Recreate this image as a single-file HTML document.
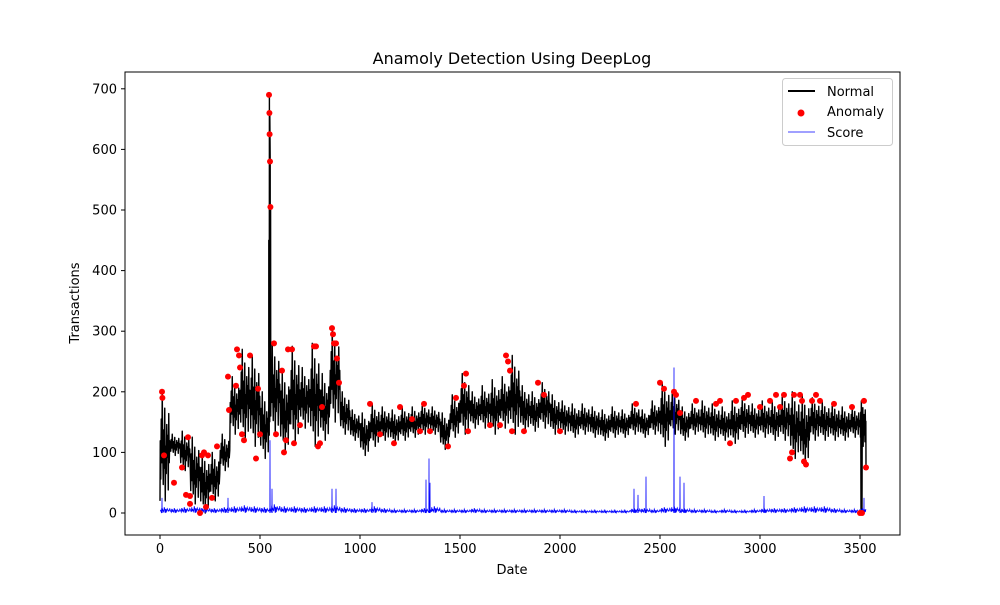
<!DOCTYPE html>
<html><head><meta charset="utf-8"><style>
body{margin:0;background:#fff;font-family:"Liberation Sans","DejaVu Sans",sans-serif}
svg text{font-family:"DejaVu Sans","Liberation Sans",sans-serif;font-size:13px}
</style></head><body>
<svg id="chart" width="1000" height="600">
<rect x="0" y="0" width="1000" height="600" fill="#fff"/>
<g id="plot"></g>
<rect x="125" y="72" width="775" height="463" fill="none" stroke="#000" stroke-width="1"/>
<g id="axes"></g>
<text x="512" y="64" text-anchor="middle" style="font-size:16px">Anamoly Detection Using DeepLog</text>
<text x="512" y="574" text-anchor="middle">Date</text>
<text x="79" y="303" text-anchor="middle" transform="rotate(-90 79 303)">Transactions</text>
<g>
<rect x="782.5" y="78.5" width="110" height="67" rx="3" fill="#fff" stroke="#ccc"/>
<line x1="788" y1="91" x2="815" y2="91" stroke="#000" stroke-width="2"/>
<text x="827" y="96">Normal</text>
<circle cx="801" cy="113" r="3.5" fill="red"/>
<text x="827" y="116">Anomaly</text>
<line x1="788" y1="132" x2="815" y2="132" stroke="blue" stroke-width="0.8"/>
<text x="827" y="137">Score</text>
</g>
</svg>
<script>
const binStart=[0,50,100,150,200,250,300,350,400,450,500,550,600,650,700,750,800,850,900,950,1000,1050,1100,1150,1200,1250,1300,1350,1400,1450,1500,1550,1600,1650,1700,1750,1800,1850,1900,1950,2000,2050,2100,2150,2200,2250,2300,2350,2400,2450,2500,2550,2600,2650,2700,2750,2800,2850,2900,2950,3000,3050,3100,3150,3200,3250,3300,3350,3400,3450,3500];
const normalLo=[20,95,70,15,0,20,70,130,120,110,90,130,100,115,140,110,120,150,130,120,95,110,120,115,120,125,130,130,105,125,130,140,140,130,140,130,135,135,140,130,130,125,130,125,120,125,125,130,125,130,110,130,120,130,125,120,120,115,125,125,125,120,120,90,80,120,120,120,120,125,110];
const normalHi=[200,130,135,125,100,100,130,225,270,260,200,280,235,275,240,280,230,305,200,170,165,180,175,170,175,175,180,175,165,195,230,200,210,220,225,260,210,200,215,195,185,180,180,175,170,175,170,180,170,185,215,200,175,180,185,180,175,185,190,180,185,185,195,200,195,190,185,180,175,175,185];
const normalSpikeX=[544,547,549,551,553,3505,3510];
const normalSpikeY=[450,690,660,580,505,0,0];
const scoreHi=[12,10,12,14,12,10,12,14,16,14,12,18,14,14,12,14,14,16,12,10,10,14,10,8,8,8,10,14,8,8,8,10,8,8,8,8,8,8,8,8,8,6,6,6,6,6,6,10,10,8,12,14,10,8,8,6,8,6,6,8,10,10,10,12,14,14,14,10,8,8,10];
const spikeX=[10,340,550,560,860,880,1060,1330,1345,1350,2370,2390,2430,2570,2600,2620,3020,3520];
const spikeY=[25,25,120,40,40,40,18,55,90,50,40,30,60,240,60,50,28,25];
const anomX=[10,12,20,70,110,130,140,150,150,200,210,220,230,240,260,285,340,345,380,385,395,400,410,420,450,480,490,500,545,547,548,550,552,570,580,610,620,630,640,660,670,700,770,780,790,800,810,860,865,870,880,885,895,1050,1100,1170,1200,1260,1300,1320,1350,1440,1480,1520,1530,1540,1650,1700,1730,1740,1750,1760,1820,1890,1920,2000,2380,2500,2520,2570,2580,2600,2680,2780,2800,2850,2880,2920,2940,3000,3050,3080,3100,3120,3150,3160,3170,3200,3210,3220,3230,3260,3280,3300,3370,3460,3500,3510,3520,3530];
const anomY=[200,190,95,50,75,30,125,15,28,0,95,100,10,95,25,110,225,170,210,270,260,240,130,120,260,90,205,130,690,660,625,580,505,280,130,235,100,120,270,270,115,145,275,275,110,115,175,305,295,280,280,255,215,180,130,115,175,155,135,180,135,110,190,210,230,135,145,145,260,250,235,135,135,215,195,135,180,215,205,200,195,165,185,180,185,115,185,190,195,175,185,195,175,195,90,100,195,195,185,85,80,185,195,185,180,175,0,0,185,75];
const xTicks=[0,500,1000,1500,2000,2500,3000,3500];
const yTicks=[0,100,200,300,400,500,600,700];
const X=v=>160+v*0.2, Y=v=>513-v*0.606;
const NS="http://www.w3.org/2000/svg";
const plot=document.getElementById('plot'), axes=document.getElementById('axes');
function mk(t,a,p){const e=document.createElementNS(NS,t);for(const k in a)e.setAttribute(k,a[k]);p.appendChild(e);return e;}
const pat=[0.55,0.2,0.75,0.35,1,0.45,0.15,0.65,0.3,0.85,0,0.5,0.25,0.7,0.4,0.6,0.1,0.8,0.35,0.55];
let pts=[[0,20]];
binStart.forEach((b,i)=>{const w=i==binStart.length-1?30:50;const n=pat.length;
 for(let k=0;k<n;k++){pts.push([b+(k+0.5)*w/n,normalLo[i]+(normalHi[i]-normalLo[i])*pat[k]]);}});
normalSpikeX.forEach((x,i)=>pts.push([x,normalSpikeY[i]]));
pts.push([3530,75]);
pts.sort((a,b)=>a[0]-b[0]);
const nl=mk('polyline',{points:pts.map(p=>X(p[0])+','+Y(p[1])).join(' '),fill:'none',stroke:'#000','stroke-width':1.4,'stroke-linejoin':'round'},plot);


let sp=[];
binStart.forEach((b,i)=>{const w=i==binStart.length-1?30:50;const n=pat.length;
 for(let k=0;k<n;k++){sp.push([b+(k+0.5)*w/n,scoreHi[i]*pat[(k*3)%n]*0.8]);}});
spikeX.forEach((x,i)=>{sp.push([x-0.7,0]);sp.push([x,spikeY[i]]);sp.push([x+0.7,0]);});
sp.sort((a,b)=>a[0]-b[0]);
const sl=mk('polyline',{points:sp.map(p=>X(p[0])+','+Y(p[1])).join(' '),fill:'none',stroke:'blue','stroke-width':0.8},plot);


anomX.forEach((x,i)=>{const c=mk('circle',{cx:X(x),cy:Y(anomY[i]),r:3,fill:'red'},plot);
 
 });
xTicks.forEach(t=>{mk('line',{x1:X(t),x2:X(t),y1:535,y2:539,stroke:'#000'},axes);
 const tx=mk('text',{x:X(t),y:553,'text-anchor':'middle'},axes);tx.textContent=t;
 
 });
yTicks.forEach(t=>{mk('line',{x1:121,x2:125,y1:Y(t),y2:Y(t),stroke:'#000'},axes);
 const tx=mk('text',{x:117,y:Y(t)+4.5,'text-anchor':'end'},axes);tx.textContent=t;
 
 });
</script>
</body></html>
